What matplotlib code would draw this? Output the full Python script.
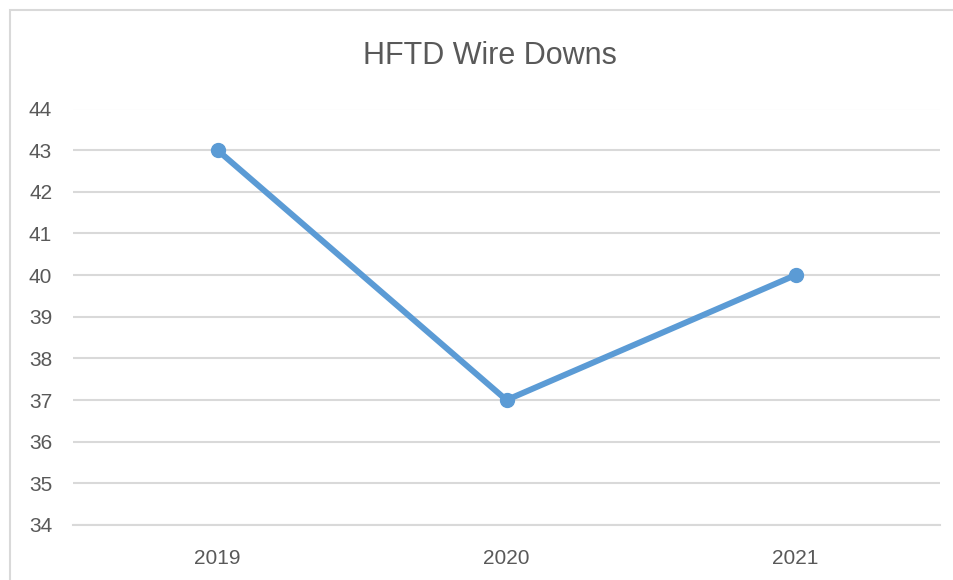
import matplotlib.pyplot as plt
from matplotlib.patches import Rectangle

# ---------------------------------------------------------
# DATA
# ---------------------------------------------------------
years = ["2019", "2020", "2021"]
wire_downs = [43, 37, 40]
y_ticks = list(range(34, 45))

LINE_COLOR = "#5B9BD5"
TEXT_COLOR = "#595959"
GRID_COLOR = "#D9D9D9"

plt.rcParams["font.family"] = ["Liberation Sans", "DejaVu Sans"]

fig = plt.figure(figsize=(9.54, 5.8), dpi=100)
W, H = 954, 580
ax = fig.add_axes([73 / W, 55 / H, (940 - 73) / W, (525 - 108.5) / H])

x = list(range(len(years)))
ax.plot(x, wire_downs, color=LINE_COLOR, linewidth=4.3, marker="o",
        markersize=10, solid_capstyle="round", zorder=3)

ax.set_xlim(-0.5, len(years) - 0.5)
ax.set_ylim(y_ticks[0], y_ticks[-1])
ax.set_yticks(y_ticks)
ax.set_xticks(x)
ax.set_xticklabels(years)

ax.grid(axis="y", color=GRID_COLOR, linewidth=1.5)
ax.set_axisbelow(True)
for side in ["top", "right", "left"]:
    ax.spines[side].set_visible(False)
ax.spines["bottom"].set_color(GRID_COLOR)
ax.spines["bottom"].set_linewidth(1.5)

ax.tick_params(axis="y", length=0, pad=15, labelsize=15, labelcolor=TEXT_COLOR)
ax.tick_params(axis="x", length=0, pad=17, labelsize=15, labelcolor=TEXT_COLOR)

fig.text(490 / W, 1 - 56 / H, "HFTD Wire Downs", ha="center", va="center",
         fontsize=22, color=TEXT_COLOR)

# chart border (runs off the right and bottom edges)
fig.patches.append(Rectangle((10 / W, -0.1), 1.2, 1 - 10 / H + 0.1,
                             transform=fig.transFigure, fill=False,
                             edgecolor=GRID_COLOR, linewidth=1.5))

fig.savefig("out.png", dpi=100)
